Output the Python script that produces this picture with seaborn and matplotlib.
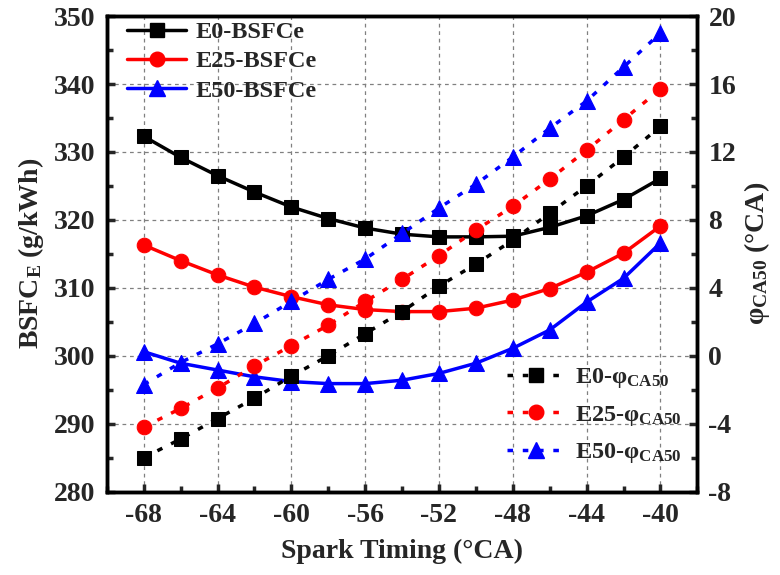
import numpy as np
import pandas as pd
import matplotlib
matplotlib.use("Agg")
import matplotlib.pyplot as plt
from matplotlib.ticker import MultipleLocator
from matplotlib.lines import Line2D
import seaborn as sns

# spark timing (°CA)
spark = [-68, -66, -64, -62, -60, -58, -56, -54, -52, -50, -48, -46, -44, -42, -40]

# BSFCe (g/kWh), left axis
bsfc_e0 = [332.3, 329.2, 326.5, 324.1, 321.9, 320.2, 318.8, 317.9, 317.5, 317.5, 317.6, 318.9, 320.6, 323.0, 326.1]
bsfc_e25 = [316.3, 314.0, 311.9, 310.1, 308.7, 307.5, 306.8, 306.5, 306.5, 307.0, 308.2, 309.9, 312.3, 315.1, 319.1]
bsfc_e50 = [300.6, 298.9, 297.9, 296.9, 296.2, 295.9, 295.9, 296.4, 297.4, 298.9, 301.1, 303.8, 307.9, 311.4, 316.6]

# phi_CA50 (°CA), right axis
phi_e0 = [-6.0, -4.9, -3.7, -2.5, -1.2, 0.0, 1.3, 2.6, 4.1, 5.4, 6.8, 8.4, 10.0, 11.7, 13.5]
phi_e25 = [-4.2, -3.1, -1.9, -0.6, 0.6, 1.8, 3.2, 4.5, 5.9, 7.4, 8.8, 10.4, 12.1, 13.9, 15.7]
phi_e50 = [-1.7, -0.4, 0.7, 1.9, 3.2, 4.5, 5.7, 7.2, 8.7, 10.1, 11.7, 13.4, 15.0, 17.0, 19.0]

names = ["E0", "E25", "E50"]
colors = ["black", "red", "blue"]
markers = ["s", "o", "^"]

sns.set_style("ticks")
plt.rcParams["font.family"] = ["Liberation Serif", "DejaVu Serif"]
plt.rcParams["font.weight"] = "bold"
plt.rcParams["axes.labelweight"] = "bold"
plt.rcParams["axes.unicode_minus"] = False
plt.rcParams["mathtext.fontset"] = "custom"
plt.rcParams["mathtext.rm"] = "Liberation Serif:bold"
plt.rcParams["mathtext.bf"] = "Liberation Serif:bold"
plt.rcParams["mathtext.it"] = "Liberation Serif:bold:italic"

df = pd.DataFrame({"spark": spark,
                   "E0_b": bsfc_e0, "E25_b": bsfc_e25, "E50_b": bsfc_e50,
                   "E0_p": phi_e0, "E25_p": phi_e25, "E50_p": phi_e50})

fig = plt.figure(figsize=(7.8, 5.75), dpi=100)
ax = fig.add_axes([0.137, 0.145, 0.757, 0.827])
ax2 = ax.twinx()

dot = (0, (1.6, 2.8))


def msize(m):
    return 11.5 if m == "^" else 10.5


for n, c, m in zip(names, colors, markers):
    sns.lineplot(data=df, x="spark", y=n + "_b", ax=ax, color=c, marker=m,
                 markersize=msize(m), markeredgecolor=c, linewidth=2.5, zorder=3)
    sns.lineplot(data=df, x="spark", y=n + "_p", ax=ax2, color=c, marker=m,
                 markersize=msize(m), markeredgecolor=c, linewidth=2.5,
                 linestyle=dot, zorder=3)

ax.set_xlim(-70, -38)
ax.set_ylim(280, 350)
ax2.set_ylim(-8, 20)

ax.xaxis.set_major_locator(MultipleLocator(4))
ax.xaxis.set_minor_locator(MultipleLocator(2))
ax.yaxis.set_major_locator(MultipleLocator(10))
ax.yaxis.set_minor_locator(MultipleLocator(5))
ax2.yaxis.set_major_locator(MultipleLocator(4))
ax2.yaxis.set_minor_locator(MultipleLocator(2))

ax.grid(True, which="major", color="gray", linestyle=(0, (3, 3)), linewidth=0.9)
ax.set_axisbelow(True)

for a in (ax, ax2):
    for s in a.spines.values():
        s.set_linewidth(2.5)
        s.set_color("black")
ax.tick_params(axis="both", which="major", direction="in", length=6, width=2.5,
               labelsize=20, pad=8, top=False, right=False)
ax.tick_params(axis="both", which="minor", direction="in", length=4, width=2.5,
               top=False, right=False)
ax2.tick_params(axis="y", which="major", direction="in", length=6, width=2.5,
                labelsize=20, pad=8)
ax2.tick_params(axis="y", which="minor", direction="in", length=4, width=2.5)
for lab in ax.get_xticklabels() + ax.get_yticklabels() + ax2.get_yticklabels():
    lab.set_fontweight("bold")

ax.set_xlabel("Spark Timing (°CA)", fontsize=20, fontweight="bold", labelpad=8)
ax.set_ylabel(r"BSFC$_\mathbf{E}$ (g/kWh)", fontsize=20, fontweight="bold", labelpad=6)
ax2.set_ylabel(r"φ$_\mathbf{CA50}$ (°CA)", fontsize=20, fontweight="bold", labelpad=4)

h1 = [Line2D([], [], color=c, marker=m, markersize=msize(m), linewidth=2.5)
      for c, m in zip(colors, markers)]
h2 = [Line2D([], [], color=c, marker=m, markersize=msize(m), linewidth=2.5,
             linestyle=dot) for c, m in zip(colors, markers)]
leg1 = ax2.legend(h1, [n + "-BSFCe" for n in names], loc="upper left",
                  frameon=False, prop={"size": 17.5, "weight": "bold"},
                  handlelength=2.4, handletextpad=0.4, labelspacing=0.3,
                  borderaxespad=0.2, bbox_to_anchor=(0.01, 1.02))
ax2.add_artist(leg1)
ax2.legend(h2, [n + r"-φ$_\mathbf{CA50}$" for n in names], loc="lower right",
           frameon=False, prop={"size": 17.5, "weight": "bold"},
           handlelength=2.4, handletextpad=0.4, labelspacing=0.55,
           borderaxespad=0.2, bbox_to_anchor=(0.998, 0.025))

fig.savefig("out.png", dpi=100)
